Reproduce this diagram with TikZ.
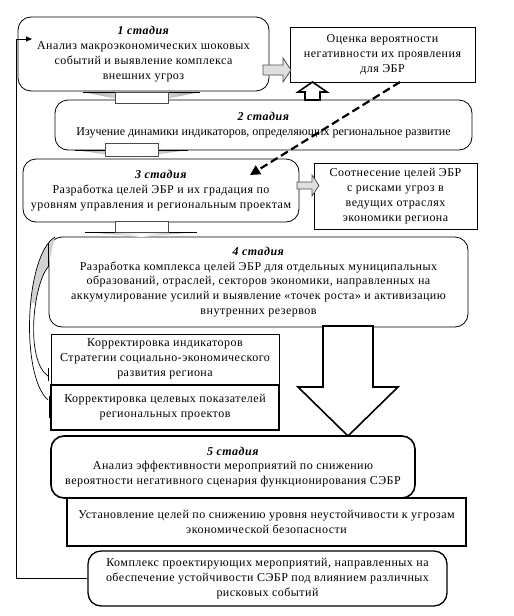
\documentclass[tikz,border=0pt]{standalone}
\usepackage{fontspec}
\setmainfont{Liberation Serif}[LetterSpace=4]
\newfontfamily\plainserif{Liberation Serif}
\usetikzlibrary{arrows.meta,calc}
\begin{document}
\begin{tikzpicture}[x=1pt,y=-1pt,
  txt/.style={font=\fontsize{12}{14.8}\selectfont, align=center, inner sep=0pt},
  rbox/.style={txt, draw, fill=white, rounded corners=13pt, line width=0.8pt},
  sbox/.style={txt, draw, fill=white, line width=0.8pt},
  heavy/.style={line width=1.6pt},
  hollow/.style={draw, line width=1.6pt, fill=white, line join=miter},
  greyarrow/.style={draw=gray!60!black, line width=0.8pt, fill=gray!25},
  thin/.style={line width=0.6pt}
]
\useasboundingbox (0,0) rectangle (514,616);

% boxes
\node[rbox, minimum width=251pt, minimum height=74pt] (b1) at (143.5,54)
  {\textbf{\textit{1 стадия}}\\Анализ макроэкономических шоковых\\событий и выявление комплекса\\внешних угроз};
\node[sbox, minimum width=185pt, minimum height=55pt] (oc) at (382.5,54.5)
  {Оценка вероятности\\негативности их проявления\\для ЭБР};
\node[rbox, minimum width=417pt, minimum height=50pt] (b2) at (263.5,125)
  {\textbf{\textit{2 стадия}}\\{\plainserif Изучение динамики индикаторов, определяющих региональное развитие}};
\node[rbox, minimum width=276pt, minimum height=63pt] (b3) at (161,190.5)
  {\textbf{\textit{3 стадия}}\\Разработка целей ЭБР и их градация по\\уровням управления и региональным проектам};
\node[sbox, minimum width=163pt, minimum height=66pt] (so) at (395.5,196)
  {Соотнесение целей ЭБР\\с рисками угроз в\\ведущих отраслях\\экономики региона};
\node[rbox, minimum width=419pt, minimum height=90pt] (b4) at (258.5,282)
  {\textbf{\textit{4 стадия}}\\Разработка комплекса целей ЭБР для отдельных муниципальных\\образований, отраслей, секторов экономики, направленных на\\аккумулирование усилий и выявление «точек роста» и активизацию\\внутренних резервов};
\node[sbox, minimum width=228pt, minimum height=50pt] (k1) at (165,359)
  {Корректировка индикаторов\\Стратегии социально-экономического\\развития региона};
\node[sbox, heavy, minimum width=228pt, minimum height=45pt] (k2) at (165,407.5)
  {Корректировка целевых показателей\\региональных проектов};
\node[rbox, heavy, minimum width=364pt, minimum height=62pt] (b5) at (233,467)
  {\textbf{\textit{5 стадия}}\\Анализ эффективности мероприятий по снижению\\вероятности негативного сценария функционирования СЭБР};
\node[sbox, heavy, minimum width=399pt, minimum height=48pt] (us) at (266.5,522)
  {Установление целей по снижению уровня неустойчивости к угрозам\\экономической безопасности};
\node[rbox, line width=1.3pt, minimum width=359pt, minimum height=55pt] (fin) at (267.5,578.5)
  {Комплекс проектирующих мероприятий, направленных на\\обеспечение устойчивости СЭБР под влиянием различных\\рисковых событий};

% flat down arrows between stages
\shade[left color=gray!80, right color=gray!80, middle color=white]
  (83,92) -- (200,92) -- (141.5,104) -- cycle;
\draw[thin] (83,92) -- (200,92);
\draw[greyarrow, fill=white] (115,92) rectangle (168,103);

\shade[left color=gray!80, right color=gray!80, middle color=white]
  (75,150) -- (188,150) -- (131.5,158) -- cycle;
\draw[thin] (75,150) -- (188,150);
\draw[greyarrow, fill=white] (105,143) rectangle (158,156);

\shade[left color=gray!80, right color=gray!80, middle color=white]
  (85,232) -- (197,232) -- (141.5,237) -- cycle;
\draw[thin] (85,232) -- (197,232);
\draw[greyarrow, fill=white] (115,221) rectangle (168,232);

% side arrows
\draw[greyarrow] (263,65) -- (283,65) -- (283,58) -- (291,70) -- (283,82) -- (283,75) -- (263,75) -- cycle;
\draw[greyarrow] (297,182) -- (312,182) -- (312,175) -- (319,185.5) -- (312,196) -- (312,189) -- (297,189) -- cycle;

% up arrow into Оценка
\draw[hollow] (305,100) -- (305,92) -- (298,92) -- (312.5,82) -- (327,92) -- (320,92) -- (320,100) -- cycle;

% big down arrow
\draw[hollow] (323,326) -- (373,326) -- (373,387) -- (398,387) -- (348,436) -- (298,387) -- (323,387) -- cycle;

% dashed arrow
\coordinate (ds) at (400,82);
\coordinate (de) at (250,175);
\draw[line width=2.2pt, dash pattern=on 8pt off 4pt, -{Triangle[length=10pt,width=10pt]}] (ds) -- (de);

% feedback line
\coordinate (fbc) at (16,39);
\coordinate (fbe) at (32,39);
\draw[line width=0.8pt, -{Triangle[length=6pt,width=5pt]}] (fin.west) -| (fbc) -- (fbe);

% curved correction arrow
\coordinate (ot) at (55,237);
\coordinate (ob) at (48,400);
\coordinate (it) at (48,267);
\coordinate (ib) at (48,376);
\begin{scope}
  \clip (0,230) rectangle (60,302);
  \fill[gray!35] (ot) .. controls (25,255) and (20,375) .. (ob) -- (ib)
     .. controls (25,360) and (33,285) .. (it) -- cycle;
\end{scope}
\draw[line width=0.7pt] (ot) .. controls (25,255) and (20,375) .. (ob);
\draw[line width=0.7pt] (it) .. controls (33,285) and (25,360) .. (ib);
\draw[line width=0.7pt] (it) -- (48,243);
\draw[line width=0.9pt] (48,368) -- (48,381);
\draw[line width=0.9pt] (49,396) -- (49,418);
\end{tikzpicture}
\end{document}
